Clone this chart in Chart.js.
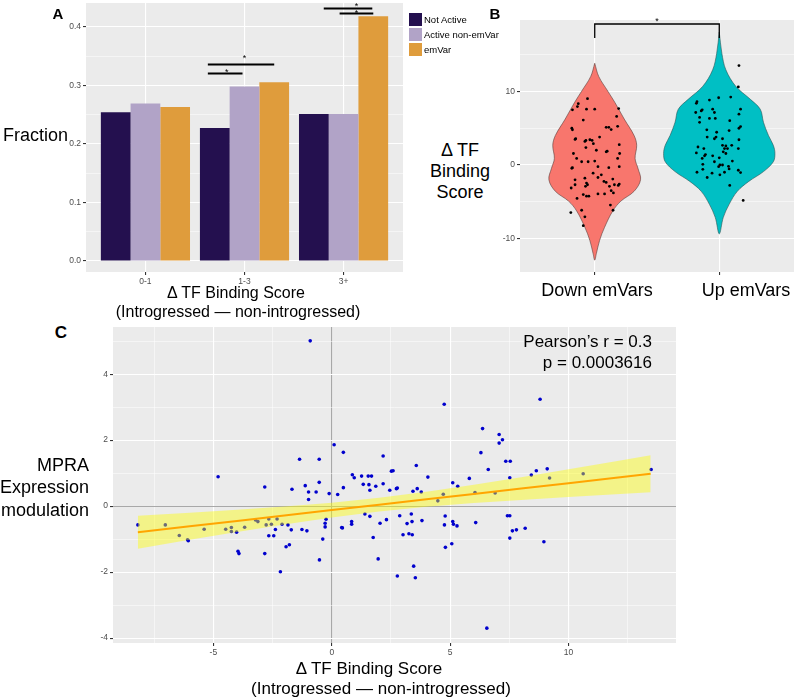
<!DOCTYPE html>
<html>
<head>
<meta charset="utf-8">
<script src="https://cdn.jsdelivr.net/npm/chart.js@4.4.1/dist/chart.umd.min.js"></script>
<style>
  body { margin: 0; width: 800px; height: 698px; position: relative; overflow: hidden; background: #fff;
         font-family: "Liberation Sans", Arial, sans-serif; }
  canvas { position: absolute; }
  .lbl { position: absolute; white-space: nowrap; color: #000; line-height: 1; }
  .mid { transform: translate(-50%, -50%); }
  .rgt { transform: translate(-100%, -50%); }
  .lft { transform: translate(0, -50%); }
  .sw { position: absolute; width: 13px; height: 13px; }
</style>
</head>
<body>
<canvas id="chartA" width="347" height="287" style="left:56px;top:3px"></canvas>
<canvas id="chartB" width="306" height="266" style="left:492px;top:16px"></canvas>
<canvas id="chartC" width="597" height="338" style="left:83px;top:323px"></canvas>

<div class="lbl mid" style="left:58px;top:13px;font-size:15px;font-weight:bold">A</div>
<div class="lbl mid" style="left:495px;top:13px;font-size:15px;font-weight:bold">B</div>
<div class="lbl mid" style="left:61px;top:332px;font-size:17px;font-weight:bold">C</div>

<div class="lbl lft" style="left:3px;top:135px;font-size:18px">Fraction</div>
<div class="lbl mid" style="left:236px;top:293px;font-size:16px">Δ TF Binding Score</div>
<div class="lbl mid" style="left:238px;top:312px;font-size:16px">(Introgressed — non-introgressed)</div>
<div id="legendA"></div>

<div class="lbl mid" style="left:460px;top:150px;font-size:18px">Δ TF</div>
<div class="lbl mid" style="left:460px;top:171px;font-size:18px">Binding</div>
<div class="lbl mid" style="left:460px;top:192px;font-size:18px">Score</div>
<div id="groupB"></div>

<div class="lbl rgt" style="left:89px;top:465px;font-size:18px">MPRA</div>
<div class="lbl rgt" style="left:89px;top:487px;font-size:18px">Expression</div>
<div class="lbl rgt" style="left:89px;top:510px;font-size:18px">modulation</div>
<div class="lbl mid" style="left:369px;top:668px;font-size:17px">Δ TF Binding Score</div>
<div class="lbl mid" style="left:381px;top:688px;font-size:17px">(Introgressed — non-introgressed)</div>
<div class="lbl rgt" style="left:652px;top:341px;font-size:17px">Pearson’s r = 0.3</div>
<div class="lbl rgt" style="left:652px;top:362px;font-size:17px">p = 0.0003616</div>

<script>
// ---------- Panel A: fraction per binding-score bin ----------
const binLabels = ["0-1", "1-3", "3+"];
const seriesNames = ["Not Active", "Active non-emVar", "emVar"];
const seriesColors = ["#24104f", "#b1a3c7", "#df9c3c"];
const notActive = [0.254, 0.227, 0.251];
const activeNonEmVar = [0.269, 0.298, 0.251];
const emVar = [0.263, 0.305, 0.418];
const fractionMajor = [0, 0.1, 0.2, 0.3, 0.4];
const fractionMinor = [0.05, 0.15, 0.25, 0.35];
// brackets: [from, to, height] in bin-index units
const bracketsA = [[0.63, 0.98, 0.320], [0.63, 1.30, 0.3355], [1.80, 2.29, 0.431], [1.96, 2.30, 0.4225]];
const starsA = [[0.82, 0.327], [1.0, 0.351], [2.13, 0.439], [2.13, 0.427]];

// ---------- Panel B: violins ----------
const groupLabels = ["Down emVars", "Up emVars"];
const scoreMajorB = [-10, 0, 10];
const scoreMinorB = [-5, 5, 15];
const downViolinY = [13.78, 12.0, 10.0, 8.44, 6.22, 4.0, 2.67, 0.89, -0.44, -2.0, -3.56, -4.89, -6.22, -8.44, -10.22, -12.0, -12.89];
const downViolinW = [0, 0.032, 0.105, 0.163, 0.237, 0.316, 0.337, 0.324, 0.347, 0.368, 0.316, 0.21, 0.145, 0.079, 0.039, 0.013, 0];
const upViolinY = [18.0, 15.11, 12.89, 10.67, 8.89, 7.56, 5.78, 4.0, 2.67, 1.56, 0.44, -0.89, -2.22, -3.56, -5.33, -7.11, -9.33];
const upViolinW = [0, 0.021, 0.053, 0.132, 0.25, 0.329, 0.355, 0.395, 0.434, 0.447, 0.434, 0.355, 0.237, 0.145, 0.079, 0.032, 0];
const downPoints = [
  [0.868, 8.31], [0.861, 7.91], [0.942, 8.98], [0.821, 7.47], [0.934, 7.56], [1.0, 7.56], [1.192, 7.64],
  [0.908, 6.09], [1.176, 6.58], [0.816, 4.98], [0.821, 4.76], [1.092, 5.11], [1.113, 5.11], [1.132, 4.80],
  [1.184, 5.24], [0.847, 3.56], [0.842, 3.47], [0.921, 3.20], [0.929, 3.33], [0.961, 3.42], [0.979, 3.33],
  [0.989, 2.89], [0.929, 2.36], [1.039, 3.78], [1.197, 2.76], [0.829, 1.56], [1.013, 2.0], [1.1, 1.87],
  [1.092, 1.78], [1.2, 1.56], [0.855, 0.89], [1.184, 0.89], [0.895, 0.44], [0.947, 0.44], [1.0, 0.53],
  [0.821, -0.36], [0.816, -0.44], [1.026, -0.22], [1.113, -0.36], [1.197, -0.22], [0.987, -1.11],
  [1.053, -1.33], [0.921, -1.78], [0.842, -2.0], [1.026, -1.69], [1.074, -2.22], [1.092, -2.36],
  [1.145, -1.91], [1.189, -2.76], [0.934, -2.44], [0.942, -2.67], [0.926, -2.89], [0.842, -2.67],
  [1.118, -2.89], [1.158, -2.67], [1.197, -2.58], [0.811, -3.11], [1.132, -3.47], [1.15, -3.78],
  [0.908, -4.0], [0.934, -4.22], [0.953, -4.22], [1.026, -3.91], [1.079, -3.91], [0.858, -4.53],
  [1.126, -5.42], [1.147, -6.13], [0.895, -6.13], [0.808, -6.44], [0.921, -7.02], [0.908, -8.22]
];
const upPoints = [
  [1.821, 8.58], [1.816, 8.36], [1.921, 8.8], [1.995, 9.11], [2.092, 9.2], [2.158, 13.47], [2.153, 10.58],
  [1.811, 7.11], [1.855, 7.33], [1.863, 7.47], [1.947, 7.56], [1.961, 7.11], [2.171, 7.56], [2.158, 6.89],
  [1.842, 6.44], [1.921, 6.31], [1.968, 6.31], [1.842, 5.78], [2.084, 6.0], [2.171, 5.2], [2.158, 4.98],
  [1.9, 4.76], [1.979, 4.44], [2.079, 4.67], [1.974, 3.78], [1.961, 3.56], [1.903, 3.78], [2.026, 3.56],
  [2.158, 3.42], [1.829, 2.44], [1.876, 2.22], [2.026, 2.67], [2.053, 2.58], [2.1, 2.67], [2.042, 2.22],
  [2.066, 2.22], [2.153, 2.22], [1.816, 1.64], [1.889, 1.42], [1.882, 1.24], [1.947, 1.24], [2.032, 1.78],
  [2.053, 1.56], [2.0, 0.98], [1.863, 0.89], [1.961, 0.44], [2.105, 0.53], [2.005, 0.0], [1.868, 0.09],
  [1.995, -0.22], [2.026, 0.0], [2.074, -0.18], [1.821, -0.98], [1.868, -0.58], [1.942, -1.11],
  [2.005, -1.33], [2.042, -0.98], [2.079, -0.53], [2.153, -0.71], [2.171, -1.02], [1.903, -1.69],
  [2.084, -2.76], [2.192, -4.8]
];
const bracketB = [[1, 17.2], [1, 19.1], [2, 19.1], [2, 17.2]];
const starsB = [[1.5, 19.8]];

// ---------- Panel C: MPRA expression vs binding score ----------
const xMajorC = [-5, 0, 5, 10];
const xMinorC = [-7.5, -2.5, 2.5, 7.5, 12.5];
const yMajorC = [-4, -2, 0, 2, 4];
const yMinorC = [-3, -1, 1, 3, 5];
const mpraPoints = [
  [-8.19, -0.57], [-7.03, -0.57], [-6.44, -0.89], [-6.09, -1.02], [-6.06, -1.05], [-5.39, -0.70], [-4.80, 0.89],
  [-4.48, -0.70], [-4.24, -0.65], [-4.24, -0.77], [-4.02, -0.79], [-3.96, -1.37], [-3.92, -1.44], [-3.68, -0.64],
  [-3.22, -0.42], [-3.12, -0.47], [-2.83, 0.58], [-2.83, -1.44], [-2.77, -0.57], [-2.66, -0.90], [-2.66, -0.39],
  [-2.55, -0.55], [-2.45, -0.90], [-2.38, -0.71], [-2.31, -0.39], [-2.17, -1.99], [-2.10, -0.55], [-1.93, -1.23],
  [-1.85, -0.57], [-1.79, -1.17], [-1.71, -0.72], [-1.68, 0.51], [-1.36, 1.42], [-1.26, -0.71], [-1.12, 0.62],
  [-1.05, -0.75], [-0.98, 0.43], [-0.98, 0.20], [-0.91, 5.01], [-0.66, 0.43], [-0.53, 1.42], [-0.53, 0.72],
  [-0.52, -1.63], [-0.38, -1.00], [-0.28, -0.52], [-0.28, -0.63], [-0.24, -0.40], [-0.11, 0.38], [0.10, 1.86],
  [0.25, 0.35], [0.42, -0.65], [0.45, -0.66], [0.49, 1.63], [0.49, 0.56], [0.84, -0.47], [0.84, -0.55],
  [0.87, 0.95], [0.95, 0.86], [1.26, 0.91], [1.33, 0.66], [1.40, -0.24], [1.54, 0.91], [1.57, 0.65],
  [1.61, 0.48], [1.61, -0.31], [1.68, 0.91], [1.75, -0.95], [1.86, 0.60], [1.96, -1.60], [2.04, -0.52],
  [2.17, 1.52], [2.17, 0.68], [2.31, -0.41], [2.45, 0.48], [2.52, 1.06], [2.59, 1.07], [2.73, 0.53],
  [2.77, 0.55], [2.77, -2.12], [2.87, -0.29], [3.01, -0.87], [3.18, -0.53], [3.26, -0.84], [3.36, -0.24],
  [3.40, -0.87], [3.39, -0.47], [3.43, 0.45], [3.46, -1.82], [3.53, -2.17], [3.57, 1.23], [3.61, 0.53],
  [3.78, 0.43], [3.81, -0.44], [4.06, 0.88], [4.48, 0.16], [4.71, 0.36], [4.75, 3.09], [4.79, -0.30],
  [4.76, -0.57], [4.80, -1.25], [5.07, -1.14], [5.11, 0.71], [5.11, -0.47], [5.14, -0.55], [5.29, -0.60],
  [5.32, 0.60], [5.81, 0.84], [6.05, 0.41], [6.08, -0.50], [6.30, 1.62], [6.37, 2.35], [6.55, -3.70],
  [6.61, 1.11], [6.90, 0.40], [7.07, 2.17], [7.07, 1.91], [7.21, 2.01], [7.35, 1.36], [7.54, 1.36],
  [7.42, -0.29], [7.52, -0.29], [7.52, 0.86], [7.52, -0.97], [7.63, -0.75], [7.80, -0.72], [8.17, -0.67],
  [8.43, 0.94], [8.64, 1.07], [8.80, 3.24], [8.96, -1.08], [9.10, 1.13], [9.20, 0.85], [10.62, 0.98], [13.49, 1.11]
];
const fitX = [-8.19, -6, -4, -2, 0, 2, 4, 6, 8, 10, 12, 13.47];
const fitY = [-0.79, -0.611, -0.448, -0.284, -0.121, 0.042, 0.206, 0.369, 0.533, 0.696, 0.859, 0.98];
const fitHigh = [-0.29, -0.199, -0.11, -0.012, 0.104, 0.25, 0.434, 0.647, 0.877, 1.115, 1.359, 1.54];
const fitLow = [-1.29, -1.023, -0.786, -0.556, -0.346, -0.166, -0.022, 0.091, 0.189, 0.277, 0.359, 0.42];

Chart.defaults.font.family = '"Liberation Sans", Arial, sans-serif';
Chart.defaults.animation = false;

const xy = (pairs) => pairs.map(([x, y]) => ({ x, y }));

// grey ggplot panel behind the grid
const panelBg = {
  id: "panelBg",
  beforeDraw(chart) {
    const { ctx, chartArea: a } = chart;
    ctx.save();
    ctx.fillStyle = "#ebebeb";
    ctx.fillRect(a.left, a.top, a.width, a.height);
    ctx.restore();
  }
};

function starPlugin(items, size) {
  return {
    id: "stars",
    afterDatasetsDraw(chart) {
      const { ctx, scales } = chart;
      ctx.save();
      ctx.fillStyle = "#000";
      ctx.font = size + 'px "Liberation Sans", Arial, sans-serif';
      ctx.textAlign = "center";
      ctx.textBaseline = "alphabetic";
      items.forEach(([x, y]) => {
        ctx.fillText("*", scales.x.getPixelForValue(x), scales.y.getPixelForValue(y) + size * 0.57);
      });
      ctx.restore();
    }
  };
}

// linear axis with ggplot-like major/minor grid
function axis({ min, max, major, minor = [], size, fmt = String, zero = false, hideLabels = false }) {
  const isMajor = (v) => major.includes(v);
  return {
    type: "linear",
    min, max,
    offset: false,
    afterBuildTicks: (s) => {
      s.ticks = major.concat(minor).sort((a, b) => a - b).map((v) => ({ value: v }));
    },
    afterFit: (s) => {
      if (s.isHorizontal()) s.height = size; else s.width = size;
      s.paddingTop = s.paddingBottom = s.paddingLeft = s.paddingRight = 0;
    },
    ticks: {
      autoSkip: false, maxRotation: 0, minRotation: 0, padding: 2,
      color: "#4d4d4d", font: { size: 8.5 },
      callback: (v) => (hideLabels || !isMajor(v) ? "" : fmt(v))
    },
    grid: {
      offset: false,
      color: (c) => (zero && c.tick && c.tick.value === 0 ? "#a8a8a8" : "#ffffff"),
      lineWidth: (c) => (c.tick && isMajor(c.tick.value) ? 1.1 : 0.5),
      tickLength: 3,
      tickColor: (c) => (c.tick && isMajor(c.tick.value) ? "#333333" : "rgba(0,0,0,0)")
    },
    border: { display: false }
  };
}

const noLegend = { legend: { display: false }, tooltip: { enabled: false } };

// ---------- build panel A ----------
const barSeries = [notActive, activeNonEmVar, emVar];
const barDatasets = barSeries.map((vals, i) => ({
  type: "bar",
  label: seriesNames[i],
  data: vals.map((v, j) => ({ x: j, y: v })),
  backgroundColor: seriesColors[i],
  borderWidth: 0,
  categoryPercentage: 0.9,
  barPercentage: 1.0
}));
const bracketDatasetsA = bracketsA.map(([x0, x1, y]) => ({
  type: "line",
  data: [{ x: x0, y }, { x: x1, y }],
  borderColor: "#000",
  borderWidth: 2,
  pointRadius: 0,
  clip: false
}));

new Chart(document.getElementById("chartA"), {
  type: "bar",
  data: { datasets: bracketDatasetsA.concat(barDatasets) },
  options: {
    responsive: false,
    layout: { padding: 0 },
    plugins: noLegend,
    scales: {
      x: axis({ min: -0.6, max: 2.6, major: [0, 1, 2], size: 18, fmt: (v) => binLabels[v] }),
      y: axis({ min: -0.0188, max: 0.4405, major: fractionMajor, minor: fractionMinor, size: 30, fmt: (v) => v.toFixed(1) })
    }
  },
  plugins: [panelBg, starPlugin(starsA, 9)]
});

// legend for A
const legendA = document.getElementById("legendA");
seriesNames.forEach((name, i) => {
  const sw = document.createElement("div");
  sw.className = "sw";
  sw.style.left = "409px";
  sw.style.top = 13 + i * 15 + "px";
  sw.style.background = seriesColors[i];
  legendA.appendChild(sw);
  const t = document.createElement("div");
  t.className = "lbl lft";
  t.style.left = "424px";
  t.style.top = 19.5 + i * 15 + "px";
  t.style.fontSize = "9.5px";
  t.textContent = name;
  legendA.appendChild(t);
});

// ---------- build panel B ----------
function violinShape(center, ys, ws) {
  const left = ys.map((y, i) => ({ x: center - ws[i], y }));
  const right = ys.map((y, i) => ({ x: center + ws[i], y })).slice(1, -1).reverse();
  return left.concat(right, [left[0]]);
}

new Chart(document.getElementById("chartB"), {
  type: "scatter",
  data: {
    datasets: [
      { data: xy(bracketB), showLine: true, borderColor: "#000", borderWidth: 1.3, pointRadius: 0, clip: false },
      { data: xy(downPoints), pointRadius: 1.4, backgroundColor: "#000", borderWidth: 0 },
      { data: xy(upPoints), pointRadius: 1.4, backgroundColor: "#000", borderWidth: 0 },
      { data: violinShape(1, downViolinY, downViolinW), showLine: true, fill: "shape", tension: 0.35,
        backgroundColor: "#f8766d", borderColor: "#5a3b38", borderWidth: 0.6, pointRadius: 0 },
      { data: violinShape(2, upViolinY, upViolinW), showLine: true, fill: "shape", tension: 0.35,
        backgroundColor: "#00bfc4", borderColor: "#2c5556", borderWidth: 0.6, pointRadius: 0 }
    ]
  },
  options: {
    responsive: false,
    layout: { padding: 0 },
    plugins: noLegend,
    scales: {
      x: axis({ min: 0.4, max: 2.6, major: [1, 2], size: 10, hideLabels: true }),
      y: axis({ min: -14.49, max: 19.64, major: scoreMajorB, minor: scoreMinorB, size: 28 })
    }
  },
  plugins: [panelBg, starPlugin(starsB, 9)]
});

const groupB = document.getElementById("groupB");
[[597, groupLabels[0]], [746, groupLabels[1]]].forEach(([cx, text]) => {
  const t = document.createElement("div");
  t.className = "lbl mid";
  t.style.left = cx + "px";
  t.style.top = "290px";
  t.style.fontSize = "18px";
  t.textContent = text;
  groupB.appendChild(t);
});

// ---------- build panel C ----------
const fitLine = (ys) => fitX.map((x, i) => ({ x, y: ys[i] }));

new Chart(document.getElementById("chartC"), {
  type: "scatter",
  data: {
    datasets: [
      { data: fitLine(fitY), showLine: true, borderColor: "#ffa500", borderWidth: 2, pointRadius: 0 },
      { data: fitLine(fitHigh), showLine: true, borderWidth: 0, pointRadius: 0, fill: "+1",
        backgroundColor: "rgba(255,255,0,0.42)" },
      { data: fitLine(fitLow), showLine: true, borderWidth: 0, pointRadius: 0 },
      { data: xy(mpraPoints), pointRadius: 1.8, backgroundColor: "#0000cd", borderWidth: 0 }
    ]
  },
  options: {
    responsive: false,
    layout: { padding: 0 },
    plugins: noLegend,
    scales: {
      x: axis({ min: -9.24, max: 14.54, major: xMajorC, minor: xMinorC, size: 18, zero: true }),
      y: axis({ min: -4.15, max: 5.43, major: yMajorC, minor: yMinorC, size: 30, zero: true })
    }
  },
  plugins: [panelBg]
});
</script>
</body>
</html>
